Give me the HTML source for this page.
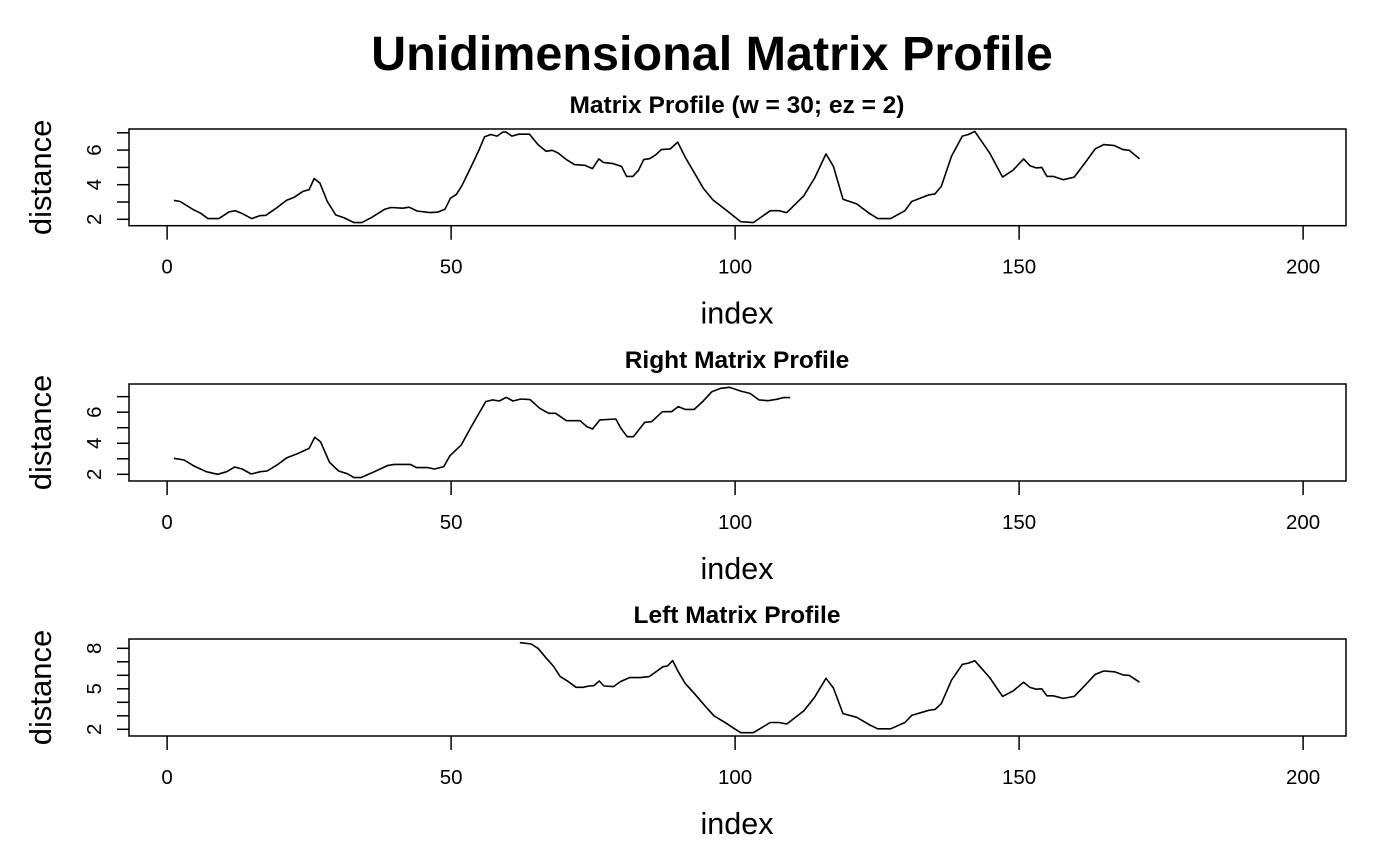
<!DOCTYPE html>
<html><head><meta charset="utf-8"><style>
body{margin:0;background:#fff}
svg{display:block;font-family:"Liberation Sans",Arial,sans-serif}
</style></head><body>
<svg id="chart" width="1400" height="866" viewBox="0 0 1400 866">
<text x="712" y="70" text-anchor="middle" font-size="48.5" font-weight="bold">Unidimensional Matrix Profile</text>
</svg>
<script>
// Matrix Profile data (index, distance)
const mpIdx=[1.2,2.3,4.5,5.9,7.2,9.1,10.9,12,13.1,14.9,16.3,17.4,19.2,21,22.4,23.9,25,25.9,26.9,28.2,29.7,31.1,32.9,34.3,36.1,38.3,39.4,41.5,42.6,44,46.2,47.6,48.9,49.9,50.9,51.9,53.7,54.8,55.9,57,58.1,59.1,59.7,60.7,61.9,63.8,65.3,66.7,67.8,68.8,70.3,71.7,73.5,74.9,76,76.8,78.5,80,80.9,82,83,83.9,85,86.1,87,88.6,89.9,91.2,92.9,94.4,96.1,98.4,101,103.2,106.2,107.7,109.1,112.1,114,116,117.3,119,121.4,123.6,125.1,127.4,129.9,131.1,134.1,135.2,136.3,138.1,140,141.1,142.2,144.8,147.1,148.9,150.8,151.9,153,154,154.9,156,157.8,159.7,161.6,163.4,164.9,166.8,168.3,169.4,171.2];
const mpVal=[3.09,3.03,2.58,2.35,2.04,2.04,2.43,2.5,2.35,2.04,2.21,2.23,2.64,3.09,3.28,3.61,3.71,4.36,4.09,3.03,2.25,2.1,1.81,1.81,2.12,2.58,2.68,2.64,2.7,2.48,2.39,2.41,2.58,3.22,3.43,3.94,5.16,5.93,6.77,6.9,6.81,7.04,7.04,6.81,6.92,6.92,6.32,5.93,5.99,5.84,5.45,5.16,5.12,4.93,5.49,5.29,5.22,5.06,4.48,4.48,4.83,5.45,5.51,5.74,6.03,6.07,6.46,5.6,4.64,3.8,3.12,2.54,1.86,1.81,2.5,2.5,2.39,3.36,4.38,5.78,5.06,3.16,2.89,2.35,2.04,2.04,2.5,3.03,3.41,3.47,3.9,5.64,6.81,6.9,7.08,5.84,4.44,4.83,5.49,5.1,4.97,5,4.48,4.48,4.29,4.44,5.26,6.07,6.32,6.26,6.03,5.99,5.49];
// Right Matrix Profile
const rmpIdx=[1.2,3,4.6,6.9,8.9,10.5,11.9,13.2,14.8,16.4,17.6,19.5,21.1,22.7,25,26,27,28.6,30.2,31.7,32.9,34.1,36.5,38.8,40,42.8,43.9,45.9,47.1,48.7,49.8,51.8,53.4,56.1,57.3,58.5,59.7,60.9,62.3,63.9,65.6,67.2,68.4,70.3,72.7,73.9,74.9,76.2,79,79.9,81,82.1,84.1,85.3,87.2,88.8,90,91.2,92.8,94.3,95.9,97.5,99,101,102.6,104.2,105.8,107.3,108.5,109.7];
const rmpVal=[3.03,2.92,2.56,2.17,2,2.17,2.47,2.34,2.02,2.17,2.21,2.64,3.07,3.29,3.67,4.38,4.1,2.77,2.21,2.04,1.79,1.79,2.17,2.56,2.64,2.64,2.43,2.43,2.34,2.49,3.2,3.89,4.96,6.68,6.79,6.72,6.96,6.72,6.85,6.81,6.25,5.93,5.93,5.45,5.45,5.07,4.92,5.5,5.56,4.96,4.42,4.42,5.35,5.39,6.03,6.03,6.36,6.18,6.18,6.68,7.32,7.54,7.6,7.36,7.21,6.79,6.74,6.83,6.94,6.94];
// Left Matrix Profile
const lmpIdx=[62.1,64.1,65.3,66.9,68,69.2,70.4,72,73.2,74.3,75.1,76.1,76.9,78.6,79.8,81.4,83.3,84.9,86.1,87.3,88.1,89,90,91.2,92.8,94.7,96.3,98.3,99.8,101,103.2,106.2,107.7,109.1,112.1,114,116,117.3,119,121.4,123.6,125.1,127.4,129.9,131.1,134.1,135.2,136.3,138.1,140,141.1,142.2,144.8,147.1,148.9,150.8,151.9,153,154,154.9,156,157.8,159.7,161.6,163.4,164.9,166.8,168.3,169.4,171.2];
const lmpVal=[8.42,8.32,8,7.19,6.69,5.9,5.6,5.11,5.11,5.21,5.23,5.58,5.21,5.16,5.53,5.83,5.83,5.9,6.27,6.64,6.69,7.09,6.27,5.41,4.67,3.73,2.99,2.49,2.07,1.75,1.75,2.5,2.5,2.39,3.36,4.38,5.78,5.06,3.16,2.89,2.35,2.04,2.04,2.5,3.03,3.41,3.47,3.9,5.64,6.81,6.9,7.08,5.84,4.44,4.83,5.49,5.1,4.97,5,4.48,4.48,4.29,4.44,5.26,6.07,6.32,6.26,6.03,5.99,5.49];
const xTicks=[0,50,100,150,200];
const panelTitles=["Matrix Profile (w = 30; ez = 2)","Right Matrix Profile","Left Matrix Profile"];

const NS="http://www.w3.org/2000/svg";
const svg=document.getElementById('chart');
function mk(tag,attrs,parent){const e=document.createElementNS(NS,tag);for(const k in attrs)e.setAttribute(k,attrs[k]);(parent||svg).appendChild(e);return e;}
const xs=v=>167.1+v*5.68;
const panels=[
 {top:129,bot:225.7,y2:219.3,ppu:17.3,ticks:[2,3,4,5,6,7],labels:[2,4,6],idx:mpIdx,val:mpVal,name:'matrix-profile'},
 {top:384,bot:481,y2:474.3,ppu:15.53,ticks:[2,3,4,5,6,7],labels:[2,4,6],idx:rmpIdx,val:rmpVal,name:'right-matrix-profile'},
 {top:639,bot:736,y2:729.3,ppu:13.5,ticks:[2,3,4,5,6,7,8],labels:[2,5,8],idx:lmpIdx,val:lmpVal,name:'left-matrix-profile'}
];
panels.forEach((p,i)=>{
 const g=mk('g',{});
 
 
 const ys=v=>p.y2-(v-2)*p.ppu;
 const t=mk('text',{x:737,y:p.top-16,'text-anchor':'middle','font-size':24.5,'font-weight':'bold'},g);
 t.textContent=panelTitles[i];
 
 
 const box=mk('rect',{x:129,y:p.top,width:1217,height:p.bot-p.top,fill:'none',stroke:'#000','stroke-width':1.5},g);
 
 
 p.ticks.forEach(v=>{mk('line',{x1:117,x2:129,y1:ys(v),y2:ys(v),stroke:'#000','stroke-width':1.5},g);});
 p.labels.forEach(v=>{
  const l=mk('text',{x:0,y:0,'text-anchor':'middle','font-size':20.5,transform:`translate(101,${ys(v)}) rotate(-90)`},g);
  l.textContent=v;
  
  
 });
 xTicks.forEach(v=>{
  mk('line',{x1:xs(v),x2:xs(v),y1:p.bot,y2:p.bot+14,stroke:'#000','stroke-width':1.5},g);
  const l=mk('text',{x:xs(v),y:p.bot+48,'text-anchor':'middle','font-size':20.5},g);
  l.textContent=v;
  
  
 });
 const yl=mk('text',{x:0,y:0,'text-anchor':'middle','font-size':31,transform:`translate(51,${(p.top+p.bot)/2}) rotate(-90)`},g);
 yl.textContent='distance';
 
 
 const xl=mk('text',{x:737,y:p.bot+98,'text-anchor':'middle','font-size':30.5},g);
 xl.textContent='index';
 
 
 const d=p.idx.map((x,j)=>(j?'L':'M')+xs(x).toFixed(1)+','+ys(p.val[j]).toFixed(1)).join('');
 const path=mk('path',{d:d,fill:'none',stroke:'#000','stroke-width':1.6,'stroke-linejoin':'round'},g);
 
 
});
</script>
</body></html>
